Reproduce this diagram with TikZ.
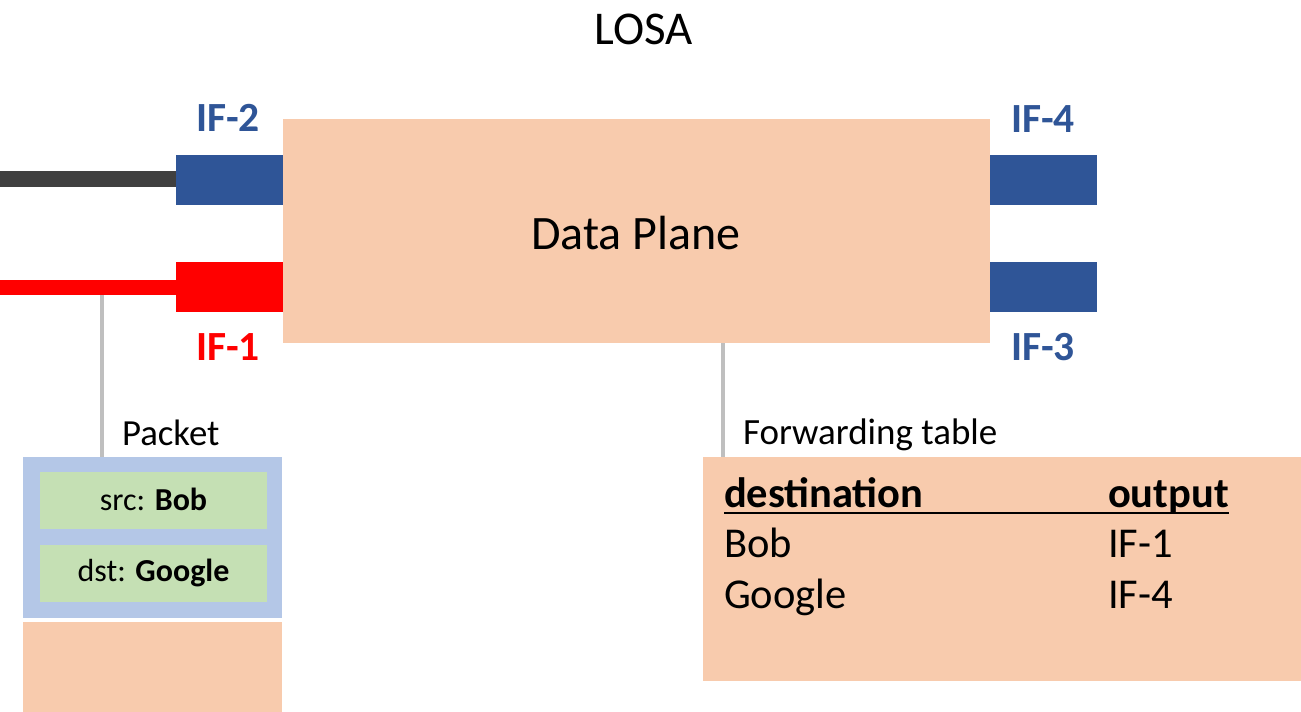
\documentclass[tikz,border=0pt]{standalone}
\usepackage{fontspec}
\setmainfont{Carlito}
\definecolor{peach}{HTML}{F8CBAD}
\definecolor{ifblue}{HTML}{2F5597}
\definecolor{ifred}{HTML}{FF0000}
\definecolor{wire}{HTML}{404040}
\definecolor{tap}{HTML}{BFBFBF}
\definecolor{hdrblue}{HTML}{B4C7E7}
\definecolor{fldgreen}{HTML}{C5E0B4}
\newcommand{\fs}[1]{\fontsize{#1}{#1}\selectfont}
\tikzset{
  box/.style={inner sep=0, outer sep=0, draw=none, anchor=north west},
  port/.style={box, minimum width=107, minimum height=50},
  lbl/.style={inner sep=0, outer sep=0, anchor=base west},
  tapline/.style={draw=tap, line width=4pt},
}
\begin{document}
\begin{tikzpicture}[x=1pt,y=-1pt]
\useasboundingbox (0,0) rectangle (1301,712);

% title
\node[inner sep=0, anchor=base] (title) at (644,44) {\fs{47}LOSA};

% router data plane and its interfaces
\node[box, fill=peach, minimum width=707, minimum height=224] (dp) at (283,119) {};
\node[inner sep=0, anchor=base] (dptext) at (636,249) {\fs{48}Data Plane};

\node[port, fill=ifblue] (if2) at (176,155) {};
\node[port, fill=ifred]  (if1) at (176,262) {};
\node[port, fill=ifblue] (if4) at (990,155) {};
\node[port, fill=ifblue] (if3) at (990,262) {};

\node[lbl, text=ifblue] (lif2) at (196,131) {\fs{41.5}\bfseries IF-2};
\node[lbl, text=ifred]  (lif1) at (196,360) {\fs{41.5}\bfseries IF-1};
\node[lbl, text=ifblue] (lif4) at (1011,132) {\fs{41.5}\bfseries IF-4};
\node[lbl, text=ifblue] (lif3) at (1011,360) {\fs{41.5}\bfseries IF-3};

% attached links
\coordinate (wireA) at (0,179);
\coordinate (wireB) at (0,287);
\draw[wire, line width=16pt] (wireA) -- (wireA -| if2.west);
\draw[ifred, line width=15pt] (wireB) -- (wireB -| if1.west);

% packet
\node[box, fill=hdrblue, minimum width=259, minimum height=161] (pkt) at (23,457) {};
\node[box, fill=fldgreen, minimum width=227, minimum height=57] (src) at (40,472) {};
\node[box, fill=fldgreen, minimum width=227, minimum height=57] (dst) at (40,545) {};
\node[inner sep=0] at ([yshift=1]src.center) {\fs{32}src: \textbf{Bob}};
\node[inner sep=0] at ([yshift=1]dst.center) {\fs{32}dst: \textbf{Google}};
\node[box, fill=peach, minimum width=259, minimum height=90] (payload) at (23,622) {};
\node[lbl] (pktlbl) at (122,445) {\fs{36.8}Packet};

\coordinate (tapA) at (102,295);
\draw[tapline] (tapA) -- (tapA |- pkt.north);

% forwarding table
\node[box, fill=peach, minimum width=598, minimum height=224] (fib) at (703,457) {};
\node[lbl] (fiblbl) at (743,444) {\fs{37}Forwarding table};
\coordinate (tapB) at (723,343);
\draw[tapline] (tapB) -- (tapB |- fib.north);

\node[lbl] (hdst) at (724,507) {\fs{42.5}\bfseries destination};
\node[lbl] (hout) at (1108,507) {\fs{42.5}\bfseries output};
\draw[line width=2.5pt] (hdst.base west) ++(0,6) coordinate (ulA) -- (ulA -| hout.east);
\node[lbl] (r1d) at (724,557) {\fs{42.5}Bob};
\node[lbl] (r1o) at (1108,557) {\fs{42.5}IF-1};
\node[lbl] (r2d) at (724,608) {\fs{42.5}Google};
\node[lbl] (r2o) at (1108,608) {\fs{42.5}IF-4};
\end{tikzpicture}
\end{document}
